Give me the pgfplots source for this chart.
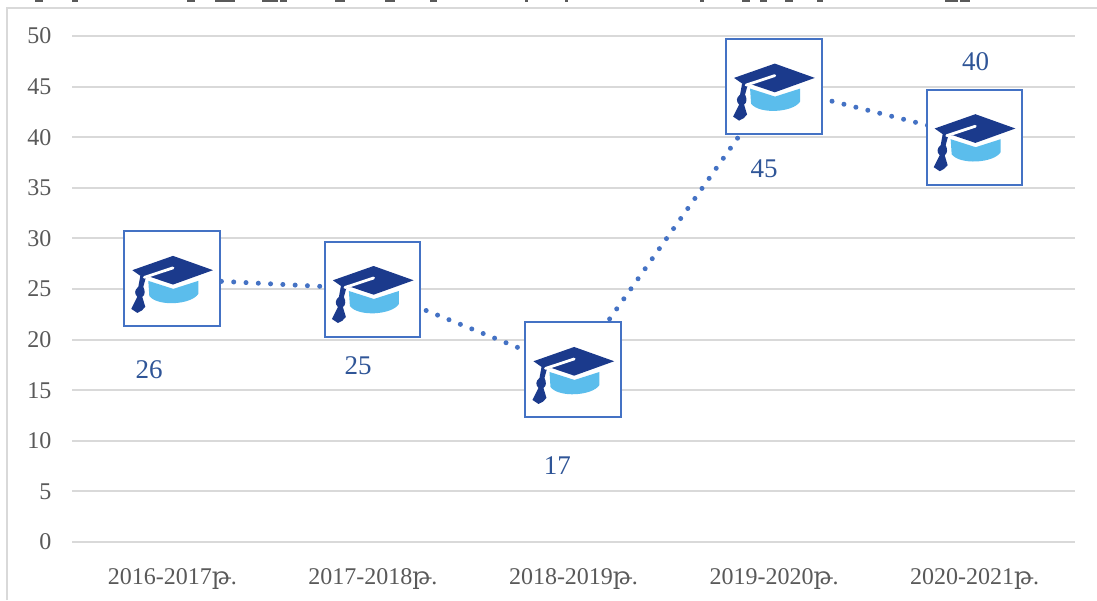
\documentclass[border=0pt]{standalone}
\usepackage{pgfplots}
\pgfplotsset{compat=1.18}
\usepackage{fontspec}
\setmainfont{Liberation Serif}
\newfontfamily\armfont{DejaVu Serif}
\definecolor{gridc}{HTML}{D9D9D9}
\definecolor{tickc}{HTML}{595959}
\definecolor{serie}{HTML}{4472C4}
\definecolor{lab}{HTML}{2F5597}
\definecolor{capd}{HTML}{1B3A8C}
\definecolor{capl}{HTML}{5BBDEC}
\newcommand{\M}[2]{\pgfpathmoveto{\pgfqpoint{#1pt}{#2pt}}}
\newcommand{\Ln}[2]{\pgfpathlineto{\pgfqpoint{#1pt}{#2pt}}}
\newcommand{\Cv}[6]{\pgfpathcurveto{\pgfqpoint{#1pt}{#2pt}}{\pgfqpoint{#3pt}{#4pt}}{\pgfqpoint{#5pt}{#6pt}}}
\pgfdeclareplotmark{gradcap}{%
  % box
  \pgfsetdash{}{0pt}%
  \pgfsetstrokecolor{serie}\pgfsetfillcolor{white}\pgfsetlinewidth{2pt}%
  \pgfpathrectangle{\pgfqpoint{-48pt}{-47.5pt}}{\pgfqpoint{95.5pt}{95pt}}%
  \pgfusepath{fill,stroke}%
  % light body
  \pgfsetfillcolor{capl}%
  \M{-24}{-2}\Ln{1}{-10}\Ln{26}{-2}\Ln{26}{-15}\Cv{19}{-26}{-15}{-28}{-23}{-17}\pgfpathclose
  \pgfusepath{fill}%
  % tassel
  \pgfsetfillcolor{capd}%
  \M{-32}{3}\Ln{-26}{3}\Ln{-29}{-8}\Cv{-27}{-12}{-27}{-16}{-30}{-18}\Ln{-27}{-28}\Cv{-29}{-31}{-32}{-33}{-35}{-34}\Ln{-41}{-30}\Ln{-35}{-18}\Cv{-38}{-15}{-38}{-11}{-34}{-8}\pgfpathclose
  \pgfusepath{fill}%
  % cap
  \M{-40}{8.7}\Ln{0.7}{23}\Ln{40.7}{8.7}\Ln{0.7}{-5.7}\Ln{-22}{2}\Ln{-29}{1}\pgfpathclose
  \pgfusepath{fill}%
  % white band
  \pgfsetstrokecolor{white}\pgfsetlinewidth{2.8pt}\pgfsetroundcap
  \M{-28}{1.5}\Ln{0.7}{11}\pgfusepath{stroke}%
}
\begin{document}
\begin{tikzpicture}[x=1pt,y=1pt]
\useasboundingbox (0,0) rectangle (1097,600);
\draw[gridc,line width=2pt] (7,0) -- (7,591.5) -- (1097,591.5);
% remnants of the title cropped at the top edge
\foreach \a/\b in {35/43,72/78,187/195,215/235,262/278,280/287,335/345,385/395,430/437,525/528,565/568,700/704,742/750,760/767,785/793,817/823,945/958,960/970}
  \fill[black!65] (\a,597.5) rectangle (\b,600);
\begin{axis}[
  at={(72pt,58pt)},anchor=south west,
  scale only axis,width=1003pt,height=506pt,
  xmin=-0.5,xmax=4.5,ymin=0,ymax=50,
  axis line style={draw=none},
  clip=false,
  xtick={0,1,2,3,4},
  xticklabels={2016-2017{\armfont թ}.,2017-2018{\armfont թ}.,2018-2019{\armfont թ}.,2019-2020{\armfont թ}.,2020-2021{\armfont թ}.},
  ytick={0,5,...,50},
  ymajorgrids,
  grid style={gridc,line width=2pt},
  major tick length=0pt,
  tick label style={text=tickc,font=\fontsize{24}{28}\selectfont},
  /pgf/number format/assume math mode=true,
  yticklabel style={xshift=-17pt},
  xticklabel style={yshift=-23pt},
]
\addplot[serie,line width=5pt,line cap=round,dash pattern=on 0pt off 12.3pt,
  mark=gradcap,mark options={solid}] coordinates {(0,26)(1,25)(2,17)(3,45)(4,40)};
\node[text=lab,font=\fontsize{27}{30}\selectfont] at (axis cs:-0.115,17.0) {26};
\node[text=lab,font=\fontsize{27}{30}\selectfont] at (axis cs:0.927,17.4) {25};
\node[text=lab,font=\fontsize{27}{30}\selectfont] at (axis cs:1.92,7.6) {17};
\node[text=lab,font=\fontsize{27}{30}\selectfont] at (axis cs:2.95,36.9) {45};
\node[text=lab,font=\fontsize{27}{30}\selectfont] at (axis cs:4.005,47.5) {40};
\end{axis}
\end{tikzpicture}
\end{document}
